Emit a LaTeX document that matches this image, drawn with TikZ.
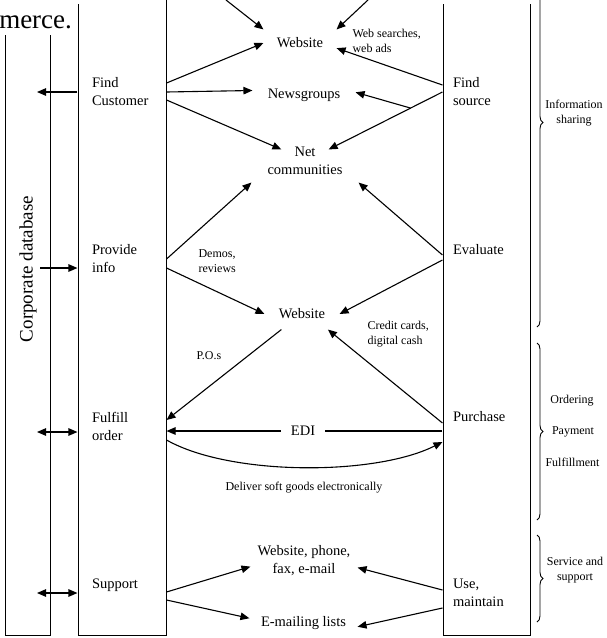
\documentclass[tikz,border=0pt]{standalone}
\usepackage{fontspec}
\setmainfont{Liberation Serif}
\usetikzlibrary{arrows.meta,decorations.pathreplacing}

\begin{document}
\begin{tikzpicture}[x=1pt,y=-1pt,line width=1.1pt,
    arr/.style={-{Triangle[length=9pt,width=7.5pt]}},
    darr/.style={{Triangle[length=9pt,width=7.5pt]}-{Triangle[length=9pt,width=7.5pt]}},
    lab/.style={font=\fontsize{14.5}{18}\selectfont},
    note/.style={font=\fontsize{12}{15.5}\selectfont,inner sep=0pt},
    lact/.style={lab,text width=60pt,inner xsep=14pt,inner ysep=0pt,align=left},
    ract/.style={lab,text width=67pt,inner xsep=10pt,inner ysep=0pt,align=left},
    spot/.style={lab,inner sep=0pt,align=center},
    brc/.style={decorate,decoration={brace,amplitude=6pt},line width=0.9pt}]
    \useasboundingbox (0,0) rectangle (607,638);
    \clip (0,0) rectangle (607,638);
    % columns
    \draw[line width=1pt] (5,35) -- (5,635) -- (50,635) -- (50,35);
    \draw[line width=1pt] (78,4) -- (78,635) -- (166,635) -- (166,0);
    \draw[line width=1pt] (443,4) -- (443,635) -- (530,635) -- (530,4);
    \node[anchor=base east,font=\fontsize{27}{30}\selectfont,inner sep=0pt] (txt) at (72.5,28.3) {merce.};
    \node[rotate=90,font=\fontsize{19}{22}\selectfont] (cdb) at (28,269) {Corporate database};
    \coordinate (db1) at (37,92);
    \coordinate (db2) at (40,268);
    \coordinate (db3) at (37,432);
    \coordinate (db4) at (37,593);
    \coordinate (topl) at (226,0);
    \coordinate (topr) at (368,0);
    % activities
    \node[lact] (fcust) at (122,92) {Find\\Customer};
    \node[lact] (pinfo) at (122,259) {Provide\\info};
    \node[lact] (forder) at (122,426) {Fulfill\\order};
    \node[lact] (supp) at (122,585) {Support};
    \node[ract] (fsrc) at (486.5,92) {Find\\source};
    \node[ract] (eval) at (486.5,250) {Evaluate};
    \node[ract] (purch) at (486.5,417) {Purchase};
    \node[ract] (usem) at (486.5,593) {Use,\\maintain};
    % channels
    \node[spot,minimum width=72pt,minimum height=26pt] (web1) at (300,43) {Website};
    \node[note,anchor=west,align=left] (webads) at (352,41) {Web searches,\\web ads};
    \node[spot,minimum width=102pt] (news) at (304,95) {Newsgroups};
    \node[spot,minimum width=106pt,minimum height=32pt] (net) at (305,161) {Net\\communities};
    \node[note,anchor=west,align=left] (demos) at (198,261) {Demos,\\reviews};
    \node[spot,minimum width=74pt,minimum height=30pt] (web2) at (302,314) {Website};
    \node[note,anchor=west,align=left] (cards) at (367,334) {Credit cards,\\digital cash};
    \node[note,anchor=west] (pos) at (196,356) {P.O.s};
    \node[spot,minimum width=43pt] (edi) at (303,431) {EDI};
    \node[note] (soft) at (304,488) {Deliver soft goods electronically};
    \node[spot,minimum width=106pt,minimum height=36pt] (wpf) at (304,561) {Website, phone,\\fax, e-mail};
    \node[spot,minimum width=107pt] (eml) at (303.5,623) {E-mailing lists};
    % phases
    \draw[brc] (537,-82) -- (537,327);
    \draw[brc] (537,343) -- (537,520);
    \draw[brc] (537,535) -- (537,622);
    \node[note,align=center] (info) at (574,113) {Information\\sharing};
    \node[note] (ord) at (572,401) {Ordering};
    \node[note] (pay) at (573,432) {Payment};
    \node[note] (ful) at (572.5,462) {Fulfillment};
    \node[note,align=center] (serv) at (575,570) {Service and\\support};
    % flows
    \draw[arr] (topl) -- (web1.north west);
    \draw[arr] (topr) -- (web1.north east);
    \draw[arr] (fcust.west) -- (db1);
    \draw[arr] ([yshift=9pt]fcust.east) -- (web1.west);
    \draw[arr] (fcust.east) -- (news.175);
    \draw[arr] ([yshift=-8pt]fcust.east) -- ([yshift=-5pt]net.145);
    \draw[arr] ([yshift=7pt]fsrc.west) -- (web1.-8);
    \draw[arr] (fsrc.west) -- coordinate[pos=0.28] (fork) ([yshift=-5pt]net.35);
    \draw[arr] (fork) -- (news.3);
    \draw[arr] (db2) -- ([yshift=-9pt]pinfo.west);
    \draw[arr] (pinfo.east) -- ([yshift=-5pt]net.south west);
    \draw[arr] ([yshift=-9pt]pinfo.east) -- (web2.west);
    \draw[arr] ([yshift=-5pt]eval.west) -- ([yshift=-5pt]net.south east);
    \draw[arr] ([yshift=-10pt]eval.west) -- (web2.east);
    \draw[arr] (web2.217) -- ([yshift=6pt]forder.east);
    \draw[arr] ([yshift=-6pt]purch.west) -- (web2.-31);
    \draw ([yshift=-14pt]purch.west) -- (edi);
    \draw[arr] (edi) -- ([yshift=-5pt]forder.east);
    \draw[darr] (db3) -- ([yshift=-6pt]forder.west);
    \draw[arr] ([yshift=-14pt]forder.east) .. controls (230,476) and (375,476) .. ([yshift=-25pt]purch.west);
    \draw[darr] (db4) -- ([yshift=-8pt]supp.west);
    \draw[arr] ([yshift=-7pt]supp.east) -- (wpf.186);
    \draw[arr] ([yshift=-15pt]supp.east) -- (eml.175);
    \draw[arr] ([yshift=3pt]usem.west) -- (wpf.-7);
    \draw[arr] ([yshift=-15pt]usem.west) -- (eml.-4);
\end{tikzpicture}
\end{document}
